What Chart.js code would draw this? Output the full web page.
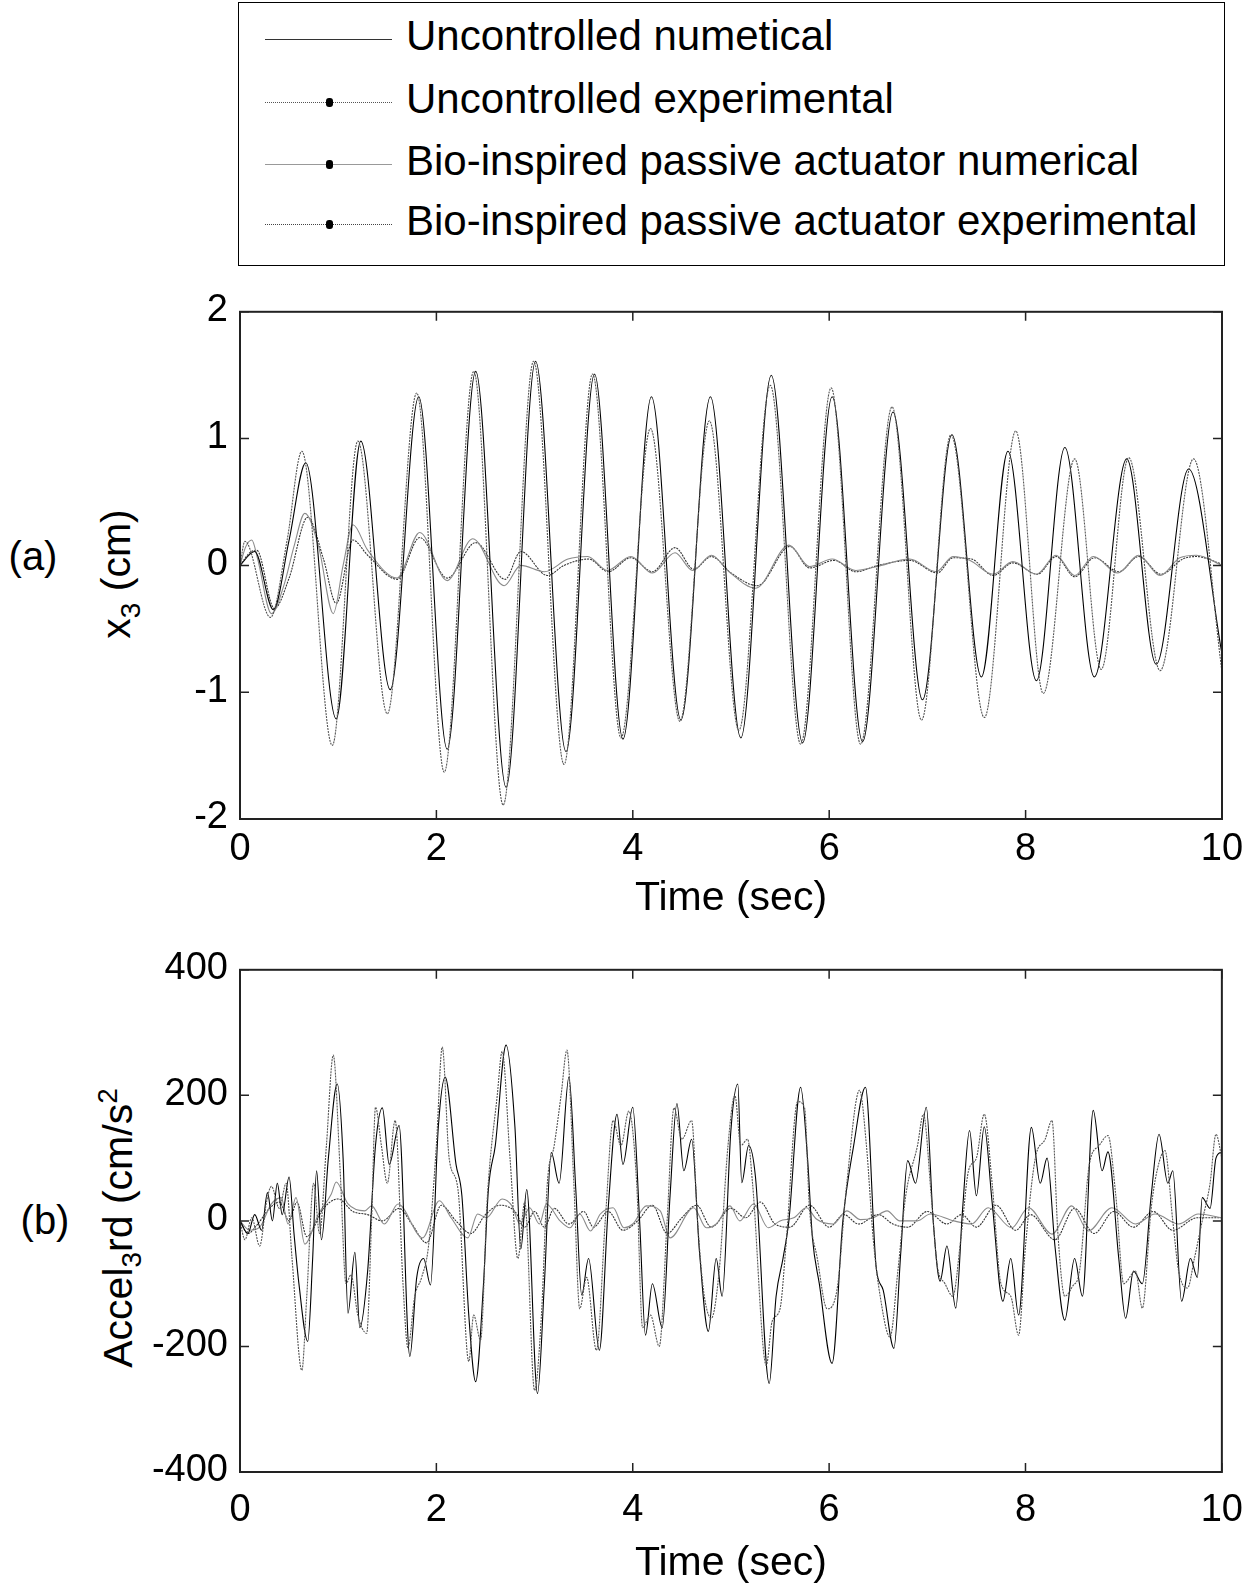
<!DOCTYPE html>
<html>
<head>
<meta charset="utf-8">
<script src="https://cdn.jsdelivr.net/npm/chart.js@4.4.0/dist/chart.umd.min.js"></script>
<style>
  body { margin: 0; background: #fff; font-family: "Liberation Sans", Arial, sans-serif; }
  #page { position: relative; width: 1252px; height: 1583px; overflow: hidden; background: #fff; }
  canvas { position: absolute; left: 0; }
  .legend { position: absolute; left: 238px; top: 2px; width: 987px; height: 264px; border: 1.5px solid #000; box-sizing: border-box; }
  .row { position: absolute; left: 0; width: 100%; height: 42px; }
  .row .txt { position: absolute; left: 167px; top: 0; font-size: 42px; line-height: 42px; white-space: nowrap; color: #000; }
  .row .ln { position: absolute; left: 26px; width: 127px; top: 24px; height: 0; }
  .row .dot { position: absolute; left: 87px; top: 20px; width: 7px; height: 9px; border-radius: 3px; background: #000; }
  .lab { position: absolute; font-size: 40px; white-space: nowrap; color: #000; transform: translate(-50%, -50%); }
  .ytitle { position: absolute; font-size: 41px; white-space: nowrap; color: #000; transform: translate(-50%, -50%) rotate(-90deg); }
  .ytitle sub, .ytitle sup { font-size: 28px; }
</style>
</head>
<body>
<div id="page">
  <div class="legend">
    <div class="row" style="top:12px"><div class="ln" style="border-top:1px solid #333"></div><div class="txt">Uncontrolled numetical</div></div>
    <div class="row" style="top:75px"><div class="ln" style="border-top:1px dotted #555"></div><div class="dot"></div><div class="txt">Uncontrolled experimental</div></div>
    <div class="row" style="top:137px"><div class="ln" style="border-top:1px solid #999"></div><div class="dot"></div><div class="txt">Bio-inspired passive actuator numerical</div></div>
    <div class="row" style="top:197px"><div class="ln" style="border-top:1px dotted #444"></div><div class="dot"></div><div class="txt">Bio-inspired passive actuator experimental</div></div>
  </div>

  <div class="lab" style="left:33px; top:556px">(a)</div>
  <div class="ytitle" style="left:120px; top:574px">x<sub>3</sub> (cm)</div>
  <canvas id="chartA" width="1252" height="646" style="top:277px; width:1252px; height:646px"></canvas>

  <div class="lab" style="left:45px; top:1220px">(b)</div>
  <div class="ytitle" style="left:120px; top:1228px">Accel<sub>3</sub>rd (cm/s<sup>2</sup></div>
  <canvas id="chartB" width="1259" height="653" style="top:935px; width:1259px; height:653px"></canvas>
</div>

<script>
// ---- dados: [tempo (s), valor] ----

// (a) deslocamento x3 (cm)
const x3UncNum = [[0,0],[0.15,0.11],[0.34,-0.35],[0.5,0.2],[0.67,0.81],[0.98,-1.21],[1.23,0.98],[1.53,-0.98],
  [1.82,1.33],[2.11,-1.45],[2.40,1.53],[2.71,-1.75],[3.01,1.61],[3.32,-1.47],[3.61,1.51],[3.90,-1.37],
  [4.19,1.33],[4.49,-1.22],[4.79,1.33],[5.10,-1.36],[5.41,1.50],[5.73,-1.40],[6.03,1.33],[6.34,-1.39],
  [6.65,1.21],[6.95,-1.06],[7.25,1.03],[7.55,-0.88],[7.82,0.90],[8.11,-0.91],[8.40,0.93],[8.70,-0.88],
  [9.03,0.84],[9.33,-0.78],[9.66,0.76],[10,-0.70]];

const x3UncExp = [[0,0],[0.05,0.19],[0.31,-0.41],[0.48,0.2],[0.63,0.90],[0.94,-1.42],[1.20,0.98],[1.50,-1.17],
  [1.80,1.36],[2.08,-1.63],[2.38,1.53],[2.68,-1.89],[2.99,1.61],[3.30,-1.57],[3.59,1.51],[3.88,-1.36],
  [4.18,1.08],[4.48,-1.23],[4.78,1.14],[5.08,-1.30],[5.40,1.42],[5.71,-1.41],[6.02,1.40],[6.32,-1.41],
  [6.64,1.25],[6.94,-1.22],[7.24,1.03],[7.58,-1.20],[7.90,1.06],[8.18,-1.01],[8.50,0.84],[8.77,-0.82],
  [9.05,0.85],[9.37,-0.83],[9.71,0.84],[10,-0.84]];

const x3BioNum = [[0,0],[0.06,0.15],[0.12,0.2],[0.18,0.05],[0.32,-0.38],[0.45,-0.15],[0.55,0.15],[0.66,0.41],
  [0.8,0.15],[0.95,-0.38],[1.05,0.0],[1.15,0.32],[1.3,0.12],[1.6,-0.1],[1.83,0.26],[2.11,-0.12],[2.37,0.21],
  [2.69,-0.16],[2.86,0.0],[3.1,-0.05],[3.34,0.05],[3.54,0.07],[3.74,-0.04],[3.98,0.07],[4.2,-0.06],[4.43,0.1],
  [4.61,-0.04],[4.8,0.08],[4.98,-0.05],[5.25,-0.18],[5.59,0.16],[5.8,-0.01],[6.03,0.05],[6.27,-0.04],[6.48,-0.01],
  [6.82,0.05],[7.09,-0.05],[7.26,0.07],[7.43,0.04],[7.67,-0.07],[7.87,0.03],[8.11,-0.07],[8.31,0.08],[8.5,-0.08],
  [8.69,0.07],[8.94,-0.06],[9.15,0.08],[9.37,-0.08],[9.57,0.06],[9.74,0.08],[10,0]];

const x3BioExp = [[0,0],[0.1,0.1],[0.17,0.12],[0.35,-0.34],[0.5,-0.1],[0.69,0.38],[0.85,0.05],[0.98,-0.3],
  [1.15,0.2],[1.3,0.08],[1.6,-0.11],[1.83,0.22],[2.11,-0.1],[2.4,0.18],[2.7,-0.11],[2.86,0.11],[3.13,-0.08],
  [3.3,0.0],[3.55,0.05],[3.75,-0.05],[3.98,0.06],[4.2,-0.05],[4.43,0.14],[4.62,-0.03],[4.8,0.07],[5.0,-0.06],
  [5.27,-0.16],[5.6,0.15],[5.8,-0.02],[6.05,0.04],[6.27,-0.05],[6.5,0.0],[6.82,0.04],[7.1,-0.06],[7.26,0.06],
  [7.45,0.05],[7.67,-0.08],[7.87,0.02],[8.12,-0.07],[8.31,0.07],[8.5,-0.09],[8.7,0.06],[8.95,-0.05],[9.15,0.07],
  [9.38,-0.07],[9.6,0.05],[9.74,0.07],[10,0.01]];

// (b) aceleração (cm/s^2)
const accUncNum = [[0,0],[0.08,-20],[0.15,10],[0.22,-15],[0.28,45],[0.33,0],[0.38,60],[0.43,10],[0.5,70],
  [0.55,-20],[0.6,-100],[0.69,-192],[0.74,-60],[0.78,80],[0.83,-30],[0.9,100],[0.99,218],[1.05,100],[1.10,-147],
  [1.17,-50],[1.22,-170],[1.30,-80],[1.38,120],[1.45,180],[1.52,90],[1.62,152],[1.73,-216],[1.80,-90],[1.87,-60],
  [1.94,-102],[2.02,150],[2.09,229],[2.2,90],[2.26,40],[2.33,-150],[2.40,-256],[2.48,-100],[2.53,50],[2.60,120],
  [2.71,280],[2.80,150],[2.86,-45],[2.92,50],[3.03,-275],[3.10,-100],[3.17,109],[3.25,60],[3.35,229],[3.42,50],
  [3.48,-118],[3.55,-60],[3.66,-206],[3.75,20],[3.84,170],[3.90,90],[4.00,181],[4.07,0],[4.13,-182],[4.20,-100],
  [4.30,-170],[4.38,40],[4.45,187],[4.52,80],[4.60,130],[4.68,-50],[4.77,-176],[4.85,-60],[4.91,-120],[5.00,145],
  [5.07,218],[5.11,61],[5.18,120],[5.25,70],[5.39,-259],[5.46,-120],[5.53,-60],[5.59,0],[5.71,213],[5.78,100],
  [5.83,-27],[5.90,-100],[6.03,-227],[6.14,0],[6.25,120],[6.37,213],[6.48,-75],[6.55,-110],[6.66,-203],[6.73,-50],
  [6.80,96],[6.88,60],[6.99,181],[7.06,0],[7.13,-96],[7.20,-40],[7.29,-139],[7.36,20],[7.43,144],[7.50,40],
  [7.58,150],[7.66,30],[7.77,-128],[7.85,-60],[7.93,-150],[8.06,149],[8.15,60],[8.22,100],[8.30,-40],[8.40,-158],
  [8.50,-60],[8.58,-120],[8.69,176],[8.78,80],[8.84,110],[8.95,-60],[9.02,-155],[9.10,-80],[9.19,-100],[9.28,40],
  [9.36,138],[9.45,60],[9.50,80],[9.59,-128],[9.68,-60],[9.75,-90],[9.80,37],[9.88,20],[9.94,100],[10,110]];

const accUncExp = [[0,0],[0.05,-30],[0.12,5],[0.2,-40],[0.27,30],[0.32,55],[0.4,20],[0.47,60],[0.53,-60],
  [0.63,-238],[0.68,-120],[0.75,60],[0.81,-20],[0.88,120],[0.95,264],[1.02,80],[1.08,-100],[1.13,-86],[1.20,-150],
  [1.29,-179],[1.34,0],[1.38,181],[1.44,120],[1.50,60],[1.58,160],[1.66,-100],[1.71,-202],[1.78,-120],[1.85,-90],
  [1.92,-40],[2.00,120],[2.06,277],[2.13,100],[2.22,50],[2.33,-224],[2.38,-150],[2.45,-190],[2.52,40],[2.62,200],
  [2.67,270],[2.75,100],[2.83,-60],[2.90,30],[3.00,-270],[3.07,-150],[3.13,60],[3.20,120],[3.27,200],[3.33,272],
  [3.40,60],[3.46,-140],[3.53,-90],[3.63,-206],[3.72,0],[3.80,160],[3.88,120],[3.96,175],[4.04,60],[4.10,-170],
  [4.18,-150],[4.27,-200],[4.35,0],[4.42,180],[4.50,130],[4.60,160],[4.66,0],[4.72,-110],[4.80,-155],[4.88,-80],
  [4.97,120],[5.04,200],[5.10,120],[5.17,130],[5.22,60],[5.36,-230],[5.42,-160],[5.50,-140],[5.56,-40],[5.68,190],
  [5.75,180],[5.80,20],[5.88,-60],[5.98,-140],[6.08,-110],[6.18,60],[6.31,208],[6.38,120],[6.45,-30],[6.52,-120],
  [6.62,-185],[6.70,-80],[6.78,40],[6.90,120],[6.96,170],[7.04,40],[7.10,-70],[7.18,-100],[7.26,-120],[7.34,-30],
  [7.42,80],[7.50,100],[7.58,170],[7.66,60],[7.75,-100],[7.85,-120],[7.93,-182],[8.00,-40],[8.10,100],[8.20,130],
  [8.27,160],[8.33,-20],[8.40,-120],[8.48,-104],[8.55,-80],[8.65,90],[8.75,120],[8.84,136],[8.92,40],[9.00,-100],
  [9.12,-80],[9.19,-139],[9.28,20],[9.34,80],[9.42,112],[9.50,0],[9.56,-80],[9.65,-107],[9.72,-60],[9.80,0],
  [9.88,60],[9.94,138],[10,100]];

const accBioNum = [[0,0],[0.1,-15],[0.2,-10],[0.32,27],[0.42,37],[0.49,-5],[0.57,37],[0.66,-37],[0.8,11],
  [0.93,43],[0.98,62],[1.1,27],[1.27,16],[1.34,24],[1.47,-5],[1.61,27],[1.86,-27],[2.03,32],[2.15,5],[2.32,-27],
  [2.42,11],[2.51,5],[2.67,35],[2.77,24],[2.85,-5],[2.95,21],[3.05,-5],[3.12,27],[3.26,0],[3.36,-11],[3.46,11],
  [3.57,-16],[3.67,11],[3.8,21],[3.91,-11],[4.0,-5],[4.14,24],[4.28,16],[4.38,-27],[4.62,21],[4.75,-11],[4.85,-5],
  [4.99,24],[5.09,0],[5.23,27],[5.38,-11],[5.5,0],[5.64,5],[5.77,21],[5.87,3],[6.04,-5],[6.18,16],[6.32,2],
  [6.45,5],[6.59,16],[6.72,0],[6.9,0],[7.03,11],[7.27,0],[7.45,-5],[7.62,21],[7.86,-11],[8.03,21],[8.27,-21],
  [8.47,24],[8.64,-16],[8.88,21],[9.12,-5],[9.32,11],[9.56,-5],[9.76,11],[10,5]];

const accBioExp = [[0,0],[0.08,-20],[0.18,-5],[0.3,20],[0.4,30],[0.5,0],[0.58,30],[0.68,-25],[0.85,20],
  [1.0,35],[1.15,15],[1.3,10],[1.45,0],[1.62,20],[1.75,-5],[1.9,-35],[2.05,25],[2.2,0],[2.35,-20],[2.5,10],
  [2.65,25],[2.8,15],[2.9,-10],[3.0,15],[3.1,-10],[3.2,20],[3.35,-5],[3.5,15],[3.6,-10],[3.75,15],[3.9,-15],
  [4.05,0],[4.2,25],[4.35,-20],[4.5,5],[4.65,25],[4.8,-10],[5.0,20],[5.15,5],[5.3,30],[5.45,-5],[5.6,-10],
  [5.8,25],[6.0,-10],[6.15,10],[6.3,-5],[6.5,10],[6.65,-5],[6.8,-10],[7.0,15],[7.2,-5],[7.35,10],[7.5,-10],
  [7.7,25],[7.9,-15],[8.05,10],[8.3,-30],[8.5,20],[8.7,-20],[8.9,15],[9.1,-10],[9.3,15],[9.5,-15],[9.75,5],[10,5]];

// eixos
const timeRange = [0, 10];
const x3Range = [-2, 2];
const accRange = [-400, 400];

Chart.defaults.font.family = '"Liberation Sans", Arial, sans-serif';
Chart.defaults.color = '#000';

const toXY = pts => pts.map(p => ({ x: p[0], y: p[1] }));

// moldura e ticks internos (estilo MATLAB)
const molduraPlugin = {
  id: 'moldura',
  afterDatasetsDraw(chart) {
    const { ctx, chartArea: a, scales: { x, y } } = chart;
    ctx.save();
    ctx.strokeStyle = '#222';
    ctx.lineWidth = 2;
    ctx.strokeRect(a.left, a.top, a.right - a.left, a.bottom - a.top);
    ctx.lineWidth = 1.5;
    ctx.beginPath();
    const len = 9;
    x.ticks.forEach(t => {
      const px = x.getPixelForValue(t.value);
      ctx.moveTo(px, a.bottom); ctx.lineTo(px, a.bottom - len);
      ctx.moveTo(px, a.top); ctx.lineTo(px, a.top + len);
    });
    y.ticks.forEach(t => {
      const py = y.getPixelForValue(t.value);
      ctx.moveTo(a.left, py); ctx.lineTo(a.left + len, py);
      ctx.moveTo(a.right, py); ctx.lineTo(a.right - len, py);
    });
    ctx.stroke();
    ctx.restore();
  }
};

function criarGrafico(id, series, yRange, yStep, xAxisH, xPad, padRight) {
  const estilos = [
    { label: 'Uncontrolled experimental', color: '#555', dash: [2, 1] },
    { label: 'Uncontrolled numetical', color: '#000', dash: [] },
    { label: 'Bio-inspired passive actuator numerical', color: '#8a8a8a', dash: [] },
    { label: 'Bio-inspired passive actuator experimental', color: '#333', dash: [2, 1] }
  ];
  return new Chart(document.getElementById(id).getContext('2d'), {
    type: 'line',
    data: {
      datasets: series.map((s, i) => ({
        label: estilos[i].label,
        data: toXY(s),
        borderColor: estilos[i].color,
        borderDash: estilos[i].dash,
        borderWidth: 1.1,
        pointRadius: 0,
        cubicInterpolationMode: 'monotone',
        fill: false
      }))
    },
    options: {
      responsive: false,
      animation: false,
      layout: { padding: { top: 0, right: padRight, left: 0, bottom: 0 } },
      plugins: { legend: { display: false }, tooltip: { enabled: false } },
      scales: {
        x: {
          type: 'linear', min: timeRange[0], max: timeRange[1],
          grid: { display: false, drawTicks: false }, border: { display: false },
          ticks: { stepSize: 2, font: { size: 38 }, padding: xPad, maxRotation: 0 },
          title: { display: true, text: 'Time (sec)', font: { size: 41 }, padding: 0 },
          afterFit: s => { s.height = xAxisH; }
        },
        y: {
          type: 'linear', min: yRange[0], max: yRange[1],
          grid: { display: false, drawTicks: false }, border: { display: false },
          ticks: { stepSize: yStep, font: { size: 38 }, padding: 12, labelOffset: -1 },
          afterFit: s => { s.width = 240; }
        }
      }
    },
    plugins: [molduraPlugin]
  });
}

document.addEventListener('DOMContentLoaded', () => {
  criarGrafico('chartA', [x3UncExp, x3UncNum, x3BioNum, x3BioExp], x3Range, 1, 104, 8, 30);
  criarGrafico('chartB', [accUncExp, accUncNum, accBioNum, accBioExp], accRange, 200, 116, 16, 30);
});
</script>
</body>
</html>
